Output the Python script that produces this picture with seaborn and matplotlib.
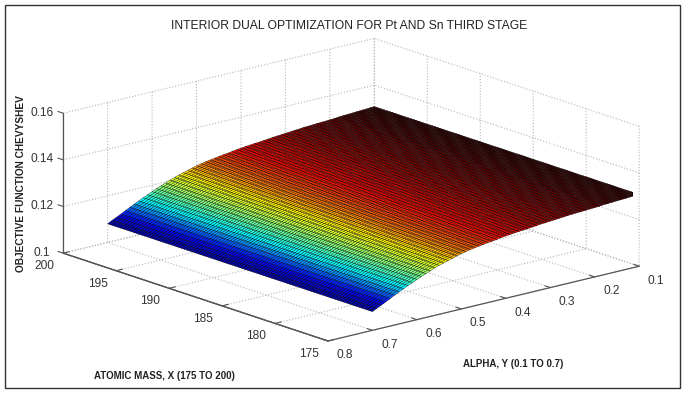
import numpy as np
import pandas as pd
import seaborn as sns
import matplotlib
matplotlib.use('Agg')
import matplotlib.pyplot as plt
from matplotlib.colors import LinearSegmentedColormap
from matplotlib.patches import Rectangle
from mpl_toolkits.mplot3d import proj3d

# values
atomic_mass = np.arange(175, 200.01, 0.25)
alpha = np.arange(0.10, 0.7001, 0.01)
objective = [
    .1308, .1307, .1306, .1305, .1304, .1303, .1302, .1301, .1300, .1298,
    .1297, .1296, .1295, .1294, .1293, .1292, .1291, .1289, .1288, .1286,
    .1285, .1283, .1282, .1280, .1278, .1276, .1274, .1273, .1271, .1269,
    .1267, .1265, .1262, .1259, .1257, .1254, .1251, .1248, .1245, .1241,
    .1237, .1232, .1226, .1221, .1215, .1210, .1203, .1195, .1188, .1180,
    .1172, .1163, .1155, .1146, .1137, .1128, .1118, .1108, .1099, .1090, .1080,
]
x_ticks = [175, 180, 185, 190, 195, 200]
y_ticks = [0.1, 0.2, 0.3, 0.4, 0.5, 0.6, 0.7, 0.8]
z_ticks = [0.1, 0.12, 0.14, 0.16]
z_tick_labels = ['0.1', '0.12', '0.14', '0.16']

sns.set_style('white')
plt.rcParams['font.family'] = ['Liberation Sans', 'DejaVu Sans']

# surface does not change along the atomic mass axis
surface = pd.DataFrame({m: objective for m in atomic_mass}, index=alpha)
X, Y = np.meshgrid(surface.columns.values, surface.index.values)
Z = surface.values

W, H = 685, 395
fig = plt.figure(figsize=(W / 100, H / 100), dpi=100)
ax = fig.add_axes([0, 0, 1, 1], projection='3d', proj_type='ortho')
ax.patch.set_alpha(0)
ax.set_box_aspect((1, 1, 0.357))
ax.view_init(elev=16.4, azim=139.6)

# jet with a darker top end, the top of the surface is almost black
cmap = LinearSegmentedColormap.from_list('jet_dark', [
    (0.0, '#000080'), (0.14, '#0000ff'), (0.33, '#00ffff'), (0.47, '#80ff80'),
    (0.61, '#ffff00'), (0.82, '#ff0000'), (0.93, '#800000'), (1.0, '#300000')])
colors = cmap((Z - Z.min()) / (Z.max() - Z.min()))
ax.plot_surface(X, Y, Z, facecolors=colors, rstride=1, cstride=1, shade=False,
                edgecolor='black', linewidth=0.25, antialiased=True)
# matplotlib can't draw the z axis line on this corner by itself
ax.plot([200, 200], [0.8, 0.8], [0.1, 0.16], color='#555555', linewidth=0.9)

ax.set_xlim(175, 200, view_margin=0)
ax.set_ylim(0.1, 0.8, view_margin=0)
ax.set_zlim(0.1, 0.16, view_margin=0)
ax.set_xticks(x_ticks)
ax.set_yticks(y_ticks)
ax.set_zticks(z_ticks)
ax.set_zticklabels(z_tick_labels)
ax.zaxis._axinfo['juggled'] = (1, 0, 2)  # z axis on the left side

for axis in (ax.xaxis, ax.yaxis, ax.zaxis):
    axis.set_pane_color((1, 1, 1, 0))
    axis.pane.set_edgecolor('none')
    axis.line.set_color('#555555')
    axis.line.set_linewidth(0.9)
    axis._axinfo['grid'].update(color='#b5b5b5', linestyle=':', linewidth=0.8)
    axis._axinfo['tick'].update(inward_factor=0.0, outward_factor=0.25)
ax.tick_params(axis='x', labelsize=8.6, labelcolor='#333333', color='#555555', pad=5)
ax.tick_params(axis='y', labelsize=8.6, labelcolor='#333333', color='#555555', pad=5.8)
ax.tick_params(axis='z', labelsize=8.6, labelcolor='#333333', color='#555555', pad=0)
for lab in ax.get_xticklabels() + ax.get_yticklabels() + ax.get_zticklabels():
    lab.set_va('center')

# fit the box to the corners measured in the picture
def corner(x, y, z):
    fig.canvas.draw()
    xs, ys, _ = proj3d.proj_transform(x, y, z, ax.get_proj())
    return ax.transData.transform((xs, ys))

left, right = corner(200, 0.8, 0.1), corner(175, 0.1, 0.1)
size = (639 - 63) / (right[0] - left[0]) * min(W, H) / H
ax.set_position([0.5 - size * H / W / 2, 0.5 - size / 2, size * H / W, size])
low = corner(175, 0.8, 0.1)
dx, dy = 328 - low[0], (H - 341) - low[1]
pos = ax.get_position()
ax.set_position([pos.x0 + dx / W, pos.y0 + dy / H, pos.width, pos.height])

fig.text(349 / W, 1 - 26 / H, 'INTERIOR DUAL OPTIMIZATION FOR Pt AND Sn THIRD STAGE',
         ha='center', va='center', fontsize=8.73, color='#222222')
fig.text(164 / W, 1 - 376 / H, 'ATOMIC MASS, X (175 TO 200)', ha='center', va='center',
         fontsize=7, color='#222222', fontweight='bold')
fig.text(513 / W, 1 - 364 / H, 'ALPHA, Y (0.1 TO 0.7)', ha='center', va='center',
         fontsize=7, color='#222222', fontweight='bold')
fig.text(21.5 / W, 1 - 184 / H, 'OBJECTIVE FUNCTION CHEVYSHEV', ha='center', va='center',
         rotation=90, fontsize=7.25, color='#222222', fontweight='bold')

fig.add_artist(Rectangle((4.5 / W, 1 - 388 / H), 675 / W, 383 / H, transform=fig.transFigure,
                         fill=False, edgecolor='#333333', linewidth=1))

fig.savefig('out.png', dpi=100)
